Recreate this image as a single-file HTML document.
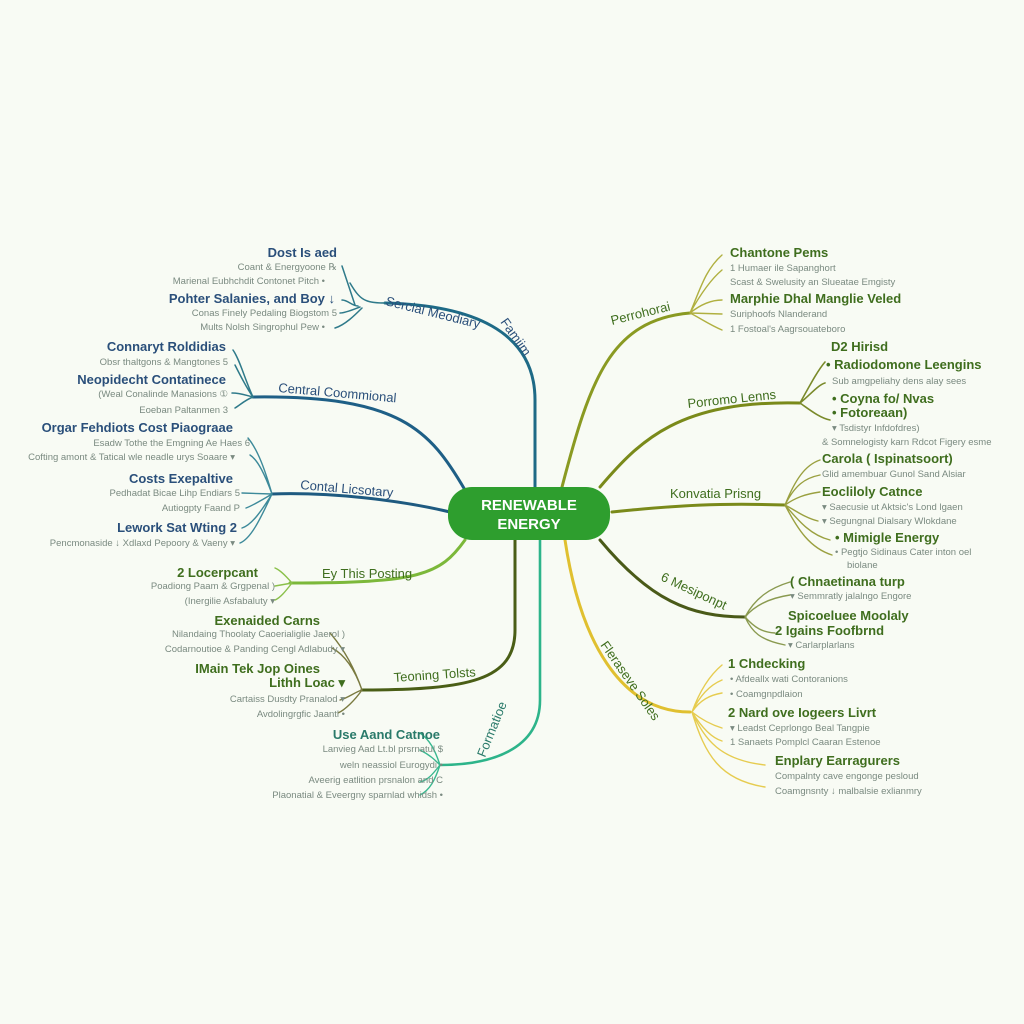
<!DOCTYPE html>
<html><head><meta charset="utf-8"><style>
html,body{margin:0;padding:0;background:#f8fbf4;}
svg{display:block;font-family:"Liberation Sans",sans-serif;}
.b{font-size:13px;font-weight:bold;}
.s{font-size:9.5px;fill:#7a8a80;}
.lb{fill:#2a4f7a;}
.lg{fill:#3f6e1e;}
.lt{fill:#2a7a6a;}
.br{font-size:13px;}
</style></head><body>
<svg width="1024" height="1024" viewBox="0 0 1024 1024">
<rect width="1024" height="1024" fill="#f8fbf4"/>
<g fill="none" stroke-linecap="round">
<!-- left blue branches -->
<path d="M535,490 L535,400 C535,330 470,305 385,303" stroke="#1e6a86" stroke-width="3"/>
<path d="M385,303 C365,303 360,300 350,283 M355,305 C350,290 345,275 342,266 M358,306 C352,306 348,300 342,300 M360,307 C352,310 345,313 340,313 M362,308 C355,315 345,325 335,328" stroke="#2f7a8a" stroke-width="1.5"/>
<path d="M465,490 C430,430 400,395 253,397" stroke="#1e5f86" stroke-width="3"/>
<path d="M253,397 C245,380 240,360 233,350 M253,397 C248,390 240,375 235,365 M253,397 C245,395 240,393 232,393 M253,397 C245,400 240,405 235,408" stroke="#2f7a8a" stroke-width="1.5"/>
<path d="M450,512 C400,500 330,492 272,494" stroke="#1e5a80" stroke-width="3"/>
<path d="M272,494 C265,470 258,450 248,438 M272,494 C265,475 258,460 250,455 M272,494 L242,493 M272,494 C262,500 252,506 246,508 M272,494 C262,510 252,525 242,528 M272,494 C262,515 252,538 240,543" stroke="#3d8a9a" stroke-width="1.4"/>
<!-- left green branches -->
<path d="M465,540 C440,575 420,583 290,583" stroke="#7cb83a" stroke-width="3"/>
<path d="M292,583 C285,575 280,570 275,568 M292,583 L275,586 M292,583 C285,592 280,598 275,600" stroke="#8ac04a" stroke-width="1.4"/>
<path d="M515,540 L515,630 C515,680 470,690 362,690" stroke="#4a5e16" stroke-width="3"/>
<path d="M362,690 C355,670 345,650 330,633 M362,690 C355,670 345,655 332,648 M362,690 C355,692 348,698 340,700 M362,690 C355,700 345,710 338,713" stroke="#7a7a40" stroke-width="1.4"/>
<path d="M540,540 L540,700 C540,750 490,765 440,765" stroke="#2db48a" stroke-width="2.6"/>
<path d="M440,765 C435,750 430,740 420,733 M440,765 C435,760 430,755 420,750 M440,765 C432,775 428,780 420,782 M440,765 C435,780 430,790 420,795" stroke="#3ab890" stroke-width="1.4"/>
<!-- right branches -->
<path d="M562,487 C590,380 610,320 690,313" stroke="#8a9a22" stroke-width="3"/>
<path d="M690,313 C700,290 705,270 722,255 M690,313 C700,295 710,280 722,270 M690,313 C700,305 710,300 722,300 M690,313 L722,314 M690,313 C700,318 710,325 722,330" stroke="#b0b040" stroke-width="1.4"/>
<path d="M600,487 C640,440 680,400 800,403" stroke="#7a8a1a" stroke-width="3"/>
<path d="M800,403 C810,385 818,370 825,362 M800,403 C810,395 818,385 825,383 M800,403 C810,410 820,418 830,420" stroke="#7a8a2a" stroke-width="1.6"/>
<path d="M612,512 C680,505 720,503 785,505" stroke="#7a8a1a" stroke-width="3"/>
<path d="M785,505 C795,480 805,465 820,460 M785,505 C795,485 805,478 820,475 M785,505 C795,498 805,494 820,492 M785,505 C795,510 805,518 818,521 M785,505 C798,520 810,535 830,540 M785,505 C798,530 810,548 832,555" stroke="#9aa040" stroke-width="1.4"/>
<path d="M600,540 C650,600 690,617 745,617" stroke="#4a5a18" stroke-width="3"/>
<path d="M745,617 C755,598 770,588 790,582 M745,617 C755,605 770,598 790,595 M745,617 C755,628 762,632 775,633 M745,617 C752,632 760,640 785,645" stroke="#8a9a50" stroke-width="1.4"/>
<path d="M565,540 C580,640 620,712 690,712" stroke="#e0c030" stroke-width="3"/>
<path d="M692,712 C700,690 710,675 722,665 M692,712 C700,695 710,685 722,680 M692,712 C700,700 710,695 722,693 M692,712 C702,720 712,725 722,728 M692,712 C702,728 712,738 722,741 M692,712 C705,740 720,760 765,765 M692,712 C705,755 720,780 765,787" stroke="#e6cc50" stroke-width="1.4"/>
</g>
<!-- center node -->
<rect x="448" y="487" width="162" height="53" rx="24" fill="#2e9e2e"/>
<text x="529" y="510" text-anchor="middle" font-size="15" font-weight="bold" fill="#fff">RENEWABLE</text>
<text x="529" y="529" text-anchor="middle" font-size="15" font-weight="bold" fill="#fff">ENERGY</text>
<!-- branch labels -->
<text class="br lb" transform="translate(385,305) rotate(14)">Sercial Meodiary</text>
<text class="br lb" transform="translate(500,322) rotate(55)">Famiim</text>
<text class="br lb" transform="translate(278,392) rotate(5)">Central Coommional</text>
<text class="br lb" transform="translate(300,489) rotate(5)">Contal Licsotary</text>
<text class="br lg" x="322" y="578">Ey This Posting</text>
<text class="br lg" transform="translate(394,682) rotate(-4)">Teoning Tolsts</text>
<text class="br lt" transform="translate(485,758) rotate(-68)">Formatioe</text>
<text class="br lg" transform="translate(612,325) rotate(-14)">Perrohorai</text>
<text class="br lg" transform="translate(688,408) rotate(-6)">Porromo Lenns</text>
<text class="br lg" x="670" y="498">Konvatia Prisng</text>
<text class="br lg" transform="translate(660,580) rotate(25)">6 Mesiponpt</text>
<text class="br lg" transform="translate(600,645) rotate(55)">Fleraseve Soles</text>
<!-- left leaves -->
<g text-anchor="end">
<text class="b lb" x="337" y="257">Dost Is aed</text>
<text class="s" x="337" y="270">Coant &amp; Energyoone ℞</text>
<text class="s" x="325" y="284">Marienal Eubhchdit Contonet Pitch •</text>
<text class="b lb" x="335" y="303">Pohter Salanies, and Boy ↓</text>
<text class="s" x="337" y="316">Conas Finely Pedaling Biogstom 5</text>
<text class="s" x="325" y="330">Mults Nolsh Singrophul Pew •</text>
<text class="b lb" x="226" y="351">Connaryt Roldidias</text>
<text class="s" x="228" y="365">Obsr thaltgons &amp; Mangtones 5</text>
<text class="b lb" x="226" y="384">Neopidecht Contatinece</text>
<text class="s" x="228" y="397">(Weal Conalinde Manasions ①</text>
<text class="s" x="228" y="413">Eoeban Paltanmen 3</text>
<text class="b lb" x="233" y="432">Orgar Fehdiots Cost Piaograae</text>
<text class="s" x="250" y="446">Esadw Tothe the Emgning Ae Haes 6</text>
<text class="s" x="235" y="460">Cofting amont &amp; Tatical wle neadle urys Soaare ▾</text>
<text class="b lb" x="233" y="483">Costs Exepaltive</text>
<text class="s" x="240" y="496">Pedhadat Bicae Lihp Endiars 5</text>
<text class="s" x="240" y="511">Autiogpty Faand P</text>
<text class="b lb" x="237" y="532">Lework Sat Wting 2</text>
<text class="s" x="235" y="546">Pencmonaside ↓ Xdlaxd Pepoory &amp; Vaeny ▾</text>
<text class="b lg" x="258" y="577">2 Locerpcant</text>
<text class="s" x="275" y="589">Poadiong Paam &amp; Grgpenal )</text>
<text class="s" x="275" y="604">(Inergilie Asfabaluty ▾</text>
<text class="b lg" x="320" y="625">Exenaided Carns</text>
<text class="s" x="345" y="637">Nilandaing Thoolaty Caoerialiglie Jaerol )</text>
<text class="s" x="345" y="652">Codarnoutioe &amp; Panding Cengl Adlabudy ▾</text>
<text class="b lg" x="320" y="673">IMain Tek Jop Oines</text>
<text class="b lg" x="345" y="687">Lithh Loac ▾</text>
<text class="s" x="345" y="702">Cartaiss Dusdty Pranalod ▾</text>
<text class="s" x="345" y="717">Avdolingrgfic Jaantl •</text>
<text class="b lt" x="440" y="739">Use Aand Catnoe</text>
<text class="s" x="443" y="752">Lanvieg Aad Lt.bl prsrnatul $</text>
<text class="s" x="443" y="768">weln neassiol Eurogydi •</text>
<text class="s" x="443" y="783">Aveerig eatlition prsnalon and C</text>
<text class="s" x="443" y="798">Plaonatial &amp; Eveergny sparnlad whidsh •</text>
</g>
<!-- right leaves -->
<g>
<text class="b lg" x="730" y="257">Chantone Pems</text>
<text class="s" x="730" y="271">1 Humaer ile Sapanghort</text>
<text class="s" x="730" y="285">Scast &amp; Swelusity an Slueatae Emgisty</text>
<text class="b lg" x="730" y="303">Marphie Dhal Manglie Veled</text>
<text class="s" x="730" y="317">Suriphoofs Nlanderand</text>
<text class="s" x="730" y="332">1 Fostoal's Aagrsouateboro</text>
<text class="b lg" x="831" y="351">D2 Hirisd</text>
<text class="b lg" x="826" y="369">• Radiodomone Leengins</text>
<text class="s" x="832" y="384">Sub amgpeliahy dens alay sees</text>
<text class="b lg" x="832" y="403">• Coyna fo/ Nvas</text>
<text class="b lg" x="832" y="417">• Fotoreaan)</text>
<text class="s" x="832" y="431">▾ Tsdistyr Infdofdres)</text>
<text class="s" x="822" y="445">&amp; Somnelogisty karn Rdcot Figery esme</text>
<text class="b lg" x="822" y="463">Carola ( Ispinatsoort)</text>
<text class="s" x="822" y="477">Glid amembuar Gunol Sand Alsiar</text>
<text class="b lg" x="822" y="496">Eocliloly Catnce</text>
<text class="s" x="822" y="510">▾ Saecusie ut Aktsic's Lond lgaen</text>
<text class="s" x="822" y="524">▾ Segungnal Dialsary Wlokdane</text>
<text class="b lg" x="835" y="542">• Mimigle Energy</text>
<text class="s" x="835" y="555">• Pegtjo Sidinaus Cater inton oel</text>
<text class="s" x="847" y="568">biolane</text>
<text class="b lg" x="790" y="586">( Chnaetinana turp</text>
<text class="s" x="790" y="599">▾ Semmratly jalalngo Engore</text>
<text class="b lg" x="788" y="620">Spicoeluee Moolaly</text>
<text class="b lg" x="775" y="635">2 Igains Foofbrnd</text>
<text class="s" x="788" y="648">▾ Carlarplarlans</text>
<text class="b lg" x="728" y="668">1 Chdecking</text>
<text class="s" x="730" y="682">• Afdeallx wati Contoranions</text>
<text class="s" x="730" y="697">• Coamgnpdlaion</text>
<text class="b lg" x="728" y="717">2 Nard ove Iogeers Livrt</text>
<text class="s" x="730" y="731">▾ Leadst Ceprlongo Beal Tangpie</text>
<text class="s" x="730" y="745">1 Sanaets Pomplcl Caaran Estenoe</text>
<text class="b lg" x="775" y="765">Enplary Earragurers</text>
<text class="s" x="775" y="779">Compalnty cave engonge pesloud</text>
<text class="s" x="775" y="794">Coamgnsnty ↓ malbalsie exlianmry</text>
</g>
</svg>
</body></html>
